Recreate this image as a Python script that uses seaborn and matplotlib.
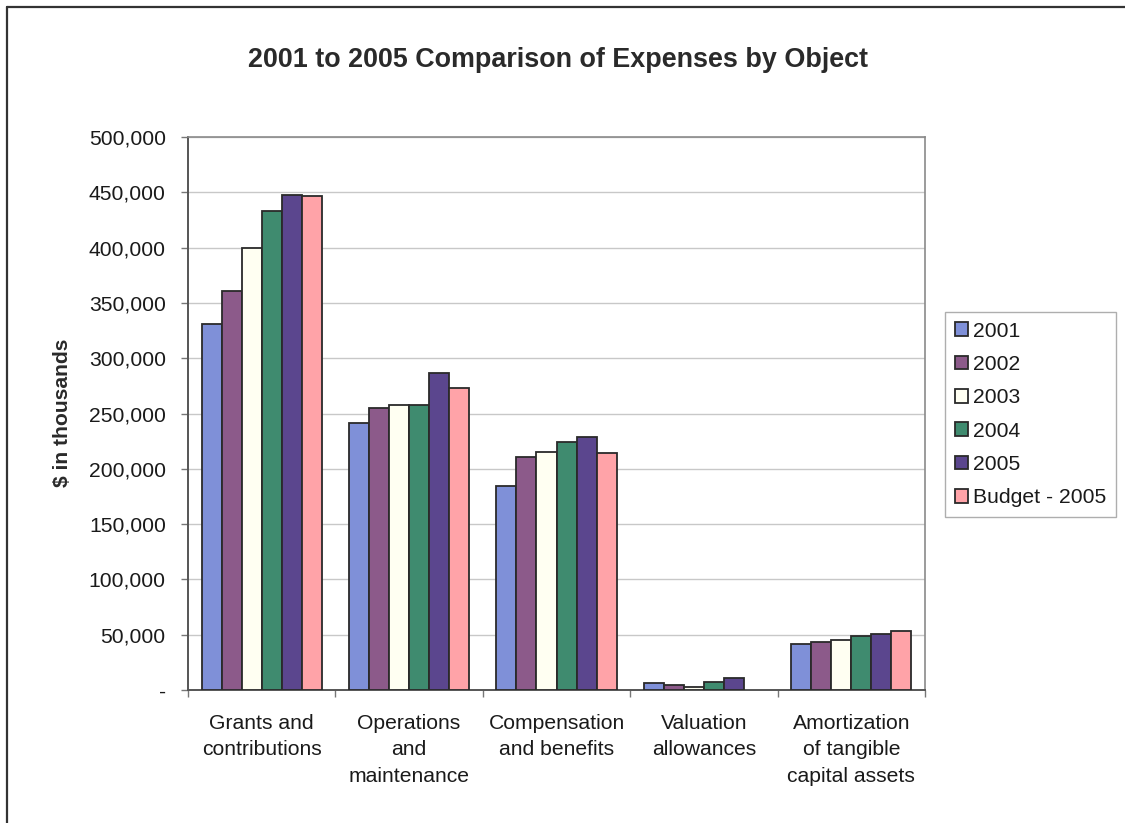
import numpy as np
import pandas as pd
import matplotlib
matplotlib.use("Agg")
import matplotlib.pyplot as plt
from matplotlib.lines import Line2D
from matplotlib.ticker import FuncFormatter, FixedLocator
import seaborn as sns

# Expense categories and yearly values ($ in thousands)
categories = [
    "Grants and\ncontributions",
    "Operations\nand\nmaintenance",
    "Compensation\nand benefits",
    "Valuation\nallowances",
    "Amortization\nof tangible\ncapital assets",
]
series_names = ["2001", "2002", "2003", "2004", "2005", "Budget - 2005"]
values_2001 = [331000, 241000, 184000, 6000, 42000]
values_2002 = [361000, 255000, 211000, 4500, 43500]
values_2003 = [400000, 258000, 215000, 3000, 45000]
values_2004 = [433000, 258000, 224500, 7500, 49000]
values_2005 = [448000, 287000, 229000, 10500, 51000]
values_budget = [447000, 273000, 214500, np.nan, 53500]

colors = ["#7F90D8", "#8C5A8A", "#FFFFF2", "#3F8B6F", "#5B468E", "#FFA3A8"]

series_values = [values_2001, values_2002, values_2003,
                 values_2004, values_2005, values_budget]
rows = []
for name, vals in zip(series_names, series_values):
    for cat, v in zip(categories, vals):
        rows.append({"category": cat, "series": name, "value": v})
df = pd.DataFrame(rows)

sns.set_theme(style="white")
plt.rcParams["font.family"] = ["Liberation Sans", "DejaVu Sans"]

FS = 15.2

fig = plt.figure(figsize=(11.25, 8.23), dpi=100)
ax = fig.add_axes([188 / 1125, 1 - 690 / 823, (925 - 188) / 1125, (690 - 137) / 823])

sns.barplot(data=df, x="category", y="value", hue="series",
            order=categories, hue_order=series_names,
            palette=colors, width=0.815, gap=0,
            edgecolor="#2a2a2a", linewidth=1.3, saturation=1,
            errorbar=None, ax=ax, zorder=3)

ax.set_ylim(0, 500000)
ax.set_xlim(-0.5, len(categories) - 0.5)
ax.set_yticks(np.arange(0, 500001, 50000))
ax.yaxis.set_major_formatter(FuncFormatter(lambda v, p: "-" if v == 0 else f"{v:,.0f}"))
ax.yaxis.grid(True, color="#c8c8c8", linewidth=1.0, zorder=0)
ax.set_axisbelow(True)

# category boundaries get tick marks, category centres get the labels
ax.xaxis.set_major_locator(FixedLocator(np.arange(-0.5, len(categories), 1.0)))
ax.xaxis.set_minor_locator(FixedLocator(np.arange(len(categories))))
ax.set_xticklabels([""] * (len(categories) + 1))
ax.set_xticklabels(categories, minor=True, linespacing=1.5)
ax.tick_params(axis="x", which="major", direction="out", length=5,
               color="#777777", width=1, bottom=True)
ax.tick_params(axis="x", which="minor", length=0, pad=17, labelsize=FS,
               labelcolor="#1a1a1a")
ax.tick_params(axis="y", direction="out", length=5, color="#777777", width=1,
               left=True, pad=11, labelsize=FS, labelcolor="#1a1a1a")

ax.set_xlabel("")
ax.set_ylabel("")

for side in ["left", "bottom"]:
    ax.spines[side].set_color("#555555")
    ax.spines[side].set_linewidth(1.4)
for side in ["top", "right"]:
    ax.spines[side].set_color("#8a8a8a")
    ax.spines[side].set_linewidth(1.2)

# Legend
handles, labels = ax.get_legend_handles_labels()
ax.legend_.remove()
leg = fig.legend(handles, labels, loc="upper left",
                 bbox_to_anchor=(945 / 1125, 1 - 312 / 823),
                 frameon=True, fancybox=False, fontsize=FS,
                 handlelength=0.62, handleheight=0.62, handletextpad=0.25,
                 labelspacing=0.68, borderpad=0.45, borderaxespad=0)
leg.get_frame().set_edgecolor("#9a9a9a")
leg.get_frame().set_linewidth(1.0)
for t in leg.get_texts():
    t.set_color("#1a1a1a")

# Title and axis label
fig.text(0.496, 1 - 60 / 823, "2001 to 2005 Comparison of Expenses by Object",
         ha="center", va="center", fontsize=19.4, fontweight="bold", color="#2a2a2a")
fig.text(62 / 1125, 1 - 413 / 823, "$ in thousands", ha="center", va="center",
         rotation=90, fontsize=FS, fontweight="bold", color="#2a2a2a")

# Chart area border (top and left edges)
fig.add_artist(Line2D([7 / 1125, 1.0], [1 - 7 / 823, 1 - 7 / 823],
                      transform=fig.transFigure, color="#333333", linewidth=1.6))
fig.add_artist(Line2D([7 / 1125, 7 / 1125], [0.0, 1 - 7 / 823],
                      transform=fig.transFigure, color="#333333", linewidth=1.6))

fig.savefig("out.png", dpi=100, facecolor="white")
